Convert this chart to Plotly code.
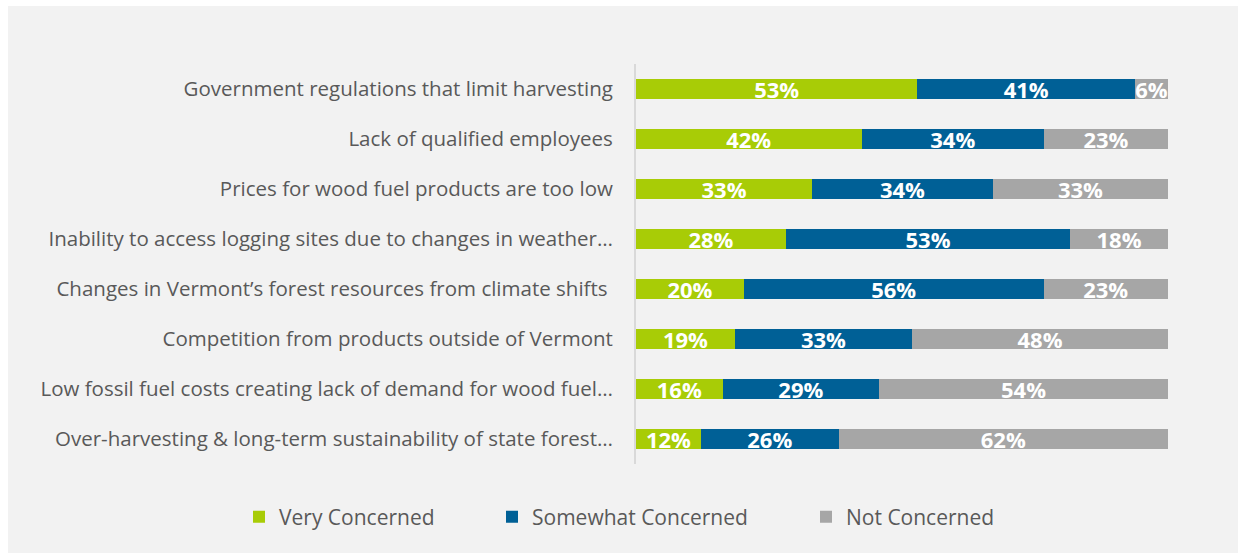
import plotly.graph_objects as go

# Survey: level of concern about issues facing the wood fuel industry
issues = [
    "Government regulations that limit harvesting",
    "Lack of qualified employees",
    "Prices for wood fuel products are too low",
    "Inability to access logging sites due to changes in weather…",
    "Changes in Vermont’s forest resources from climate shifts ",
    "Competition from products outside of Vermont",
    "Low fossil fuel costs creating lack of demand for wood fuel…",
    "Over-harvesting & long-term sustainability of state forest…",
]
very_concerned = [52.9, 42.4, 33.1, 28.2, 20.3, 18.6, 16.3, 12.2]
somewhat_concerned = [40.9, 34.3, 34.0, 53.4, 56.3, 33.3, 29.4, 25.9]
not_concerned = [6.2, 23.3, 32.9, 18.4, 23.4, 48.1, 54.3, 61.9]

series = [
    ("Very Concerned", very_concerned, "#a8cc06", "legend"),
    ("Somewhat Concerned", somewhat_concerned, "#006096", "legend2"),
    ("Not Concerned", not_concerned, "#a6a6a6", "legend3"),
]

W, H = 1238, 558
ML, MR, MT, MB = 636, 70, 64, 94
PW, PH = W - ML - MR, H - MT - MB

def px_x(x):
    return (x - ML) / PW

def px_y(y):
    return (H - MB - y) / PH

FONT = "Open Sans"
TEXT = "#595959"

fig = go.Figure()
for name, vals, color, leg in series:
    fig.add_trace(go.Bar(
        y=issues, x=vals, name=name, orientation="h",
        marker=dict(color=color, line=dict(width=0)),
        texttemplate="%{x:.0f}%", textposition="inside",
        insidetextanchor="middle", constraintext="none",
        textfont=dict(family=FONT, size=22, color="white", weight="bold"),
        legend=leg, hoverinfo="skip",
    ))

legend_text_x = {"legend": 279, "legend2": 532, "legend3": 846}
legends = {}
for key, tx in legend_text_x.items():
    legends[key] = dict(
        x=px_x(tx - 40), xanchor="left", y=px_y(517), yanchor="middle",
        orientation="h", bgcolor="rgba(0,0,0,0)", borderwidth=0,
        font=dict(family=FONT, size=21, color=TEXT),
        itemclick=False, itemdoubleclick=False,
    )

fig.update_layout(
    width=W, height=H,
    margin=dict(l=ML, r=MR, t=MT, b=MB, pad=0),
    paper_bgcolor="white", plot_bgcolor="rgba(0,0,0,0)",
    barmode="stack", bargap=0.6,
    showlegend=True,
    legend=legends["legend"], legend2=legends["legend2"], legend3=legends["legend3"],
    shapes=[dict(
        type="rect", xref="paper", yref="paper", layer="below",
        x0=px_x(8), x1=px_x(W + 2), y0=px_y(553), y1=px_y(6),
        fillcolor="#f2f2f2", line=dict(width=0),
    )],
    xaxis=dict(range=[0, 100], visible=False, fixedrange=True),
    yaxis=dict(
        autorange="reversed", showgrid=False, zeroline=False,
        showline=True, linecolor="#d9d9d9", linewidth=2,
        ticks="", ticklabelstandoff=17,
        tickfont=dict(family=FONT, size=20.5, color=TEXT),
    ),
)

fig.write_html("out.html")
